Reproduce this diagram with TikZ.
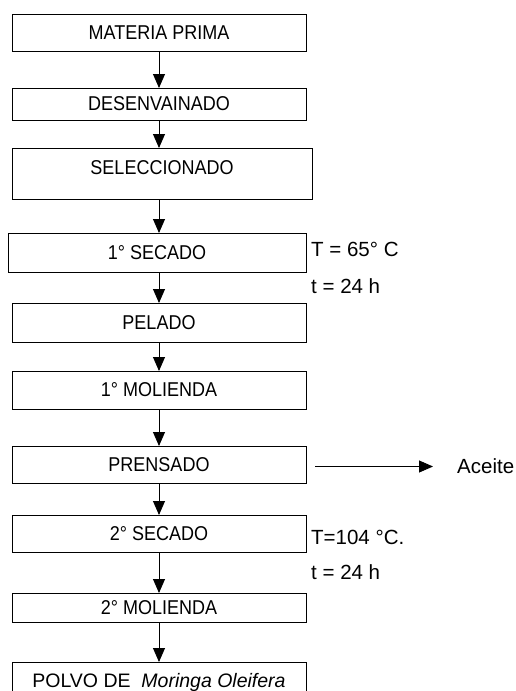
\documentclass[tikz,border=0pt]{standalone}
\usepackage{fontspec}
\setmainfont{Liberation Sans}
\newfontfamily\angosta[FakeStretch=0.9]{Liberation Sans}
\usetikzlibrary{arrows.meta,positioning,calc}

\tikzset{
  caja/.style={draw,line width=0.9pt,outer sep=0pt,inner sep=2pt,minimum width=294pt,font=\angosta\fontsize{20}{23}\selectfont},
  flecha/.style={-{Triangle[length=14pt,width=12pt]},line width=0.9pt},
  nota/.style={anchor=west,inner sep=0pt,font=\fontsize{20.5}{23}\selectfont}
}

\begin{document}
\begin{tikzpicture}[x=1pt,y=-1pt]
    \clip (0,0) rectangle (516,691);
    % etapas del proceso
    \node[caja,minimum height=37pt] (mat) at (159,32.5) {MATERIA PRIMA};
    \node[caja,minimum height=32pt,below=37pt of mat] (des) {DESENVAINADO};
    \node[caja,minimum width=300pt,inner ysep=0pt,text height=26pt,text depth=25pt,below=28pt of des.south west,anchor=north west] (sel) {SELECCIONADO};
    \node[caja,minimum width=298pt,minimum height=39pt,below=34pt of sel.south west,anchor=north west,xshift=-4pt] (sec1) {1° SECADO};
    \node[caja,minimum height=39pt,below=31pt of sec1.south east,anchor=north east] (pel) {PELADO};
    \node[caja,minimum height=38pt,below=29pt of pel] (mol1) {1° MOLIENDA};
    \node[caja,minimum height=37pt,below=37pt of mol1] (pren) {PRENSADO};
    \node[caja,minimum height=37pt,below=32pt of pren] (sec2) {2° SECADO};
    \node[caja,minimum height=29pt,below=41pt of sec2] (mol2) {2° MOLIENDA};
    \node[caja,minimum height=40pt,below=40pt of mol2,font=\fontsize{19.5}{23}\selectfont] (polvo) {POLVO DE\ \ \textit{Moringa Oleifera}};
    % condiciones
    \node[nota,right=5pt of sec1,yshift=3pt] (c1) {T = 65° C};
    \node[nota,below=37pt of c1.west,anchor=west] (c2) {t = 24 h};
    \node[nota,right=5pt of sec2,yshift=-3.5pt] (c3) {T=104 °C.};
    \node[nota,below=35pt of c3.west,anchor=west] (c4) {t = 24 h};
    \node[nota,right=151pt of pren,yshift=-2pt] (ace) {Aceite};
    % flechas
    \foreach \a/\b in {mat/des,des/sel,sel/sec1,sec1/pel,pel/mol1,mol1/pren,pren/sec2,sec2/mol2,mol2/polvo}
      \draw[flecha] (\a.south -| mat) -- (\b.north -| mat);
    \draw[flecha] (pren.east -| c3.west) ++(4pt,-2pt) -- ([xshift=-24pt]ace.west);
\end{tikzpicture}
\end{document}
